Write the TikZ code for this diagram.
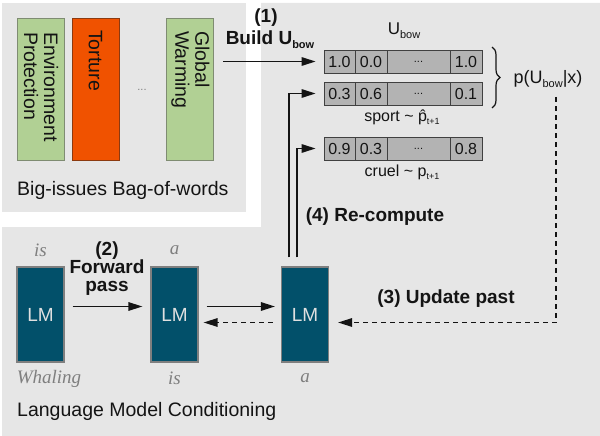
\documentclass[tikz,border=0pt]{standalone}
\usepackage{fontspec}
\setmainfont{Liberation Sans}
\newfontfamily\tmsfont{Liberation Serif}
\usetikzlibrary{arrows.meta,decorations.pathreplacing,calc}
\definecolor{bgg}{HTML}{E6E6E6}
\definecolor{grn}{HTML}{B1D094}
\definecolor{grnb}{HTML}{7F8C72}
\definecolor{org}{HTML}{F05200}
\definecolor{orgb}{HTML}{8C3A10}
\definecolor{teal}{HTML}{02506A}
\definecolor{cellg}{HTML}{B3B3B3}
\definecolor{celld}{HTML}{404040}
\definecolor{lblg}{HTML}{7F7F7F}
\definecolor{ink}{HTML}{141414}
\newcommand{\subsm}[1]{\raisebox{-0.4ex}{\fontsize{11}{11}\selectfont #1}}
\begin{document}
\begin{tikzpicture}[x=1pt,y=-1pt,
  every node/.style={text=ink},
  fnorm/.style={font=\fontsize{19.5}{20}\selectfont},
  fbold/.style={font=\fontsize{19}{21}\selectfont\bfseries, align=center},
  fital/.style={font=\fontsize{19}{20}\selectfont\tmsfont\itshape, text=lblg},
  topicbox/.style={draw=grnb, line width=0.8pt, fill=grn, minimum width=47pt, minimum height=142pt, inner sep=0pt},
  lmbox/.style={draw=lblg, line width=1.2pt, fill=teal, minimum width=47pt, minimum height=95pt, inner sep=0pt, text=white!88!black, font=\fontsize{19}{20}\selectfont},
  cellbox/.style={draw=celld, line width=0.8pt, fill=cellg, minimum height=23pt, inner sep=0pt, font=\fontsize{16}{16}\selectfont},
  arr/.style={line width=1.4pt, draw=ink, -{Triangle[length=14pt,width=8.5pt]}},
  dsh/.style={line width=1.4pt, draw=ink, dash pattern=on 5pt off 4pt, -{Triangle[length=14pt,width=8.5pt]}},
  rotlbl/.style={rotate=-90, anchor=west, align=left, inner sep=0pt, font=\fontsize{19.5}{20}\selectfont}
]
\useasboundingbox (0,0) rectangle (600,436);
% backgrounds
\fill[bgg] (2,3) rectangle (246,212);
\fill[bgg] (261,3) -- (600,3) -- (600,436) -- (2,436) -- (2,227) -- (261,227) -- cycle;

% bag of words
\node[topicbox] (env) at (40.5,89) {};
\node[topicbox, fill=org, draw=orgb] (tor) at (95.5,89) {};
\node[topicbox] (glo) at (190,89) {};
\node[rotlbl] (envt) at (41,32) {Environment\\Protection};
\node[rotlbl] (tort) at (95.5,30) {Torture};
\node[rotlbl] (glot) at (190.5,31) {Global\\Warming};
\node[font=\fontsize{11}{11}\selectfont, text=lblg] (bdots) at (142,90) {...};
\node[fnorm, anchor=west, inner sep=0pt] (bowlbl) at (17,190) {Big-issues Bag-of-words};

% vectors
\node[cellbox, minimum width=31pt] (r1a) at (339.5,61.5) {1.0};
\node[cellbox, minimum width=32pt] (r1b) at (371,61.5) {0.0};
\node[cellbox, minimum width=63pt] (r1c) at (418.5,61.5) {\fontsize{11}{11}\selectfont ...};
\node[cellbox, minimum width=32pt] (r1d) at (466,61.5) {1.0};
\node[cellbox, minimum width=31pt] (r2a) at (339.5,93.5) {0.3};
\node[cellbox, minimum width=32pt] (r2b) at (371,93.5) {0.6};
\node[cellbox, minimum width=63pt] (r2c) at (418.5,93.5) {\fontsize{11}{11}\selectfont ...};
\node[cellbox, minimum width=32pt] (r2d) at (466,93.5) {0.1};
\node[cellbox, minimum width=31pt] (r3a) at (339.5,148.5) {0.9};
\node[cellbox, minimum width=32pt] (r3b) at (371,148.5) {0.3};
\node[cellbox, minimum width=63pt] (r3c) at (418.5,148.5) {\fontsize{11}{11}\selectfont ...};
\node[cellbox, minimum width=32pt] (r3d) at (466,148.5) {0.8};

\node[font=\fontsize{17}{17}\selectfont] (ubow) at (404,31) {U\subsm{bow}};
\node[font=\fontsize{16}{16}\selectfont] (sport) at (402,117) {sport \textasciitilde{} \^{p}\subsm{\fontsize{9}{9}\selectfont t+1}};
\node[font=\fontsize{16}{16}\selectfont] (cruel) at (402,172) {cruel \textasciitilde{} p\subsm{\fontsize{9}{9}\selectfont t+1}};

\coordinate (bt) at (492,47);
\coordinate (bb) at (492,108);
\draw[line width=1.2pt, draw=ink, decorate, decoration={brace, amplitude=8pt}] (bt) -- (bb);
\node[font=\fontsize{18}{18}\selectfont] (pu) at (548,79) {p(U\subsm{bow}|x)};

% (1)
\node[fbold] (l1a) at (266,18) {(1)};
\node[fbold] (l1b) at (270,40) {Build U\subsm{\bfseries bow}};
\coordinate (b1) at (223,61.5);
\draw[arr, shorten >=8pt] (b1) -- (r1a.west);

% LMs
\node[lmbox] (lm1) at (40.5,314.5) {LM};
\node[lmbox] (lm2) at (174.5,314.5) {LM};
\node[lmbox] (lm3) at (305,314.5) {LM};
\node[fital] (w1a) at (40.5,250) {is};
\node[fital] (w2a) at (174.5,250) {a};
\node[fital] (w1b) at (49,379) {Whaling};
\node[fital] (w2b) at (174.5,378) {is};
\node[fital] (w3b) at (305,378) {a};
\node[fnorm, anchor=west, inner sep=0pt] (lmclbl) at (17,411) {Language Model Conditioning};

\node[fbold] (l2) at (107,269) {(2)\\[-3pt]Forward\\[-3pt]pass};
\node[fbold] (l3) at (446,299) {(3) Update past};
\node[fbold] (l4) at (375,217) {(4) Re-compute};

\draw[arr, shorten <=8pt, shorten >=8pt] ([yshift=8pt]lm1.east) -- ([yshift=8pt]lm2.west);
\draw[arr, shorten <=8pt, shorten >=6pt] ([yshift=8pt]lm2.east) -- ([yshift=8pt]lm3.west);
\draw[dsh, shorten <=8pt, shorten >=5pt] ([yshift=-8pt]lm3.west) -- ([yshift=-8pt]lm2.east);
\coordinate (dtop) at (556,97);
\draw[dsh, shorten >=9pt] (dtop) |- ([yshift=-8pt]lm3.east);

% re-compute lines
\coordinate (rc1) at ($(lm3.north)+(-16,-9)$);
\coordinate (rc2) at ($(lm3.north)+(-8,-9)$);
\draw[arr, shorten >=8pt] (rc1) |- (r2a.west);
\draw[arr, shorten >=8pt] (rc2) |- (r3a.west);
\end{tikzpicture}
\end{document}
